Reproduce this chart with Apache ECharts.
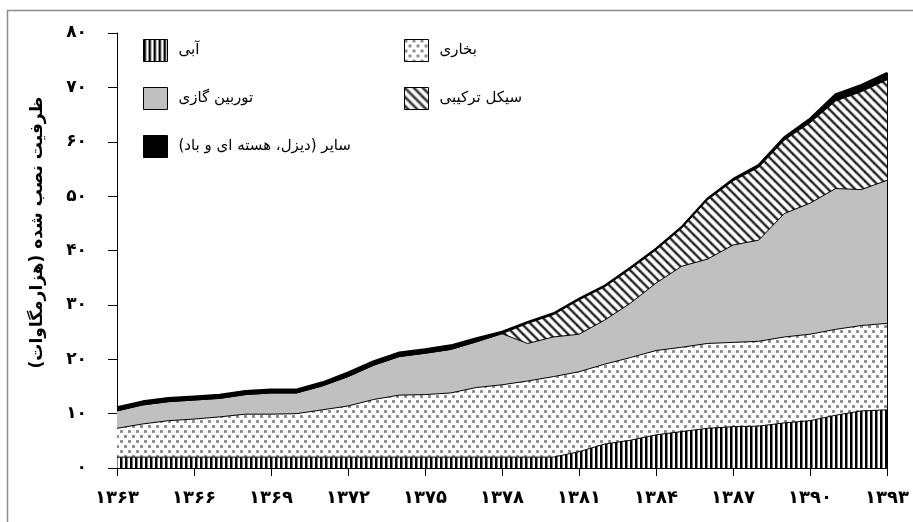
<!DOCTYPE html>
<html>
<head>
<meta charset="utf-8">
<script src="https://cdn.jsdelivr.net/npm/echarts@6/dist/echarts.min.js"></script>
<style>
  html, body { margin: 0; padding: 0; background: #fff; }
  #chart { width: 913px; height: 522px; direction: rtl; }
</style>
</head>
<body>
<div id="chart"></div>
<script>
// Categories: years (Solar Hijri)
var years = ['۱۳۶۳','۱۳۶۴','۱۳۶۵','۱۳۶۶','۱۳۶۷','۱۳۶۸','۱۳۶۹','۱۳۷۰','۱۳۷۱','۱۳۷۲',
             '۱۳۷۳','۱۳۷۴','۱۳۷۵','۱۳۷۶','۱۳۷۷','۱۳۷۸','۱۳۷۹','۱۳۸۰','۱۳۸۱','۱۳۸۲',
             '۱۳۸۳','۱۳۸۴','۱۳۸۵','۱۳۸۶','۱۳۸۷','۱۳۸۸','۱۳۸۹','۱۳۹۰','۱۳۹۱','۱۳۹۲','۱۳۹۳'];
// Y tick labels (thousand MW)
var yTickLabels = ['۰','۱۰','۲۰','۳۰','۴۰','۵۰','۶۰','۷۰','۸۰'];

// Series names
var nameHydro = 'آبی';
var nameSteam = 'بخاری';
var nameGas = 'توربین گازی';
var nameCC = 'سیکل ترکیبی';
var nameOther = 'سایر (دیزل، هسته ای و باد)';
var yAxisTitle = 'ظرفیت نصب شده (هزارمگاوات)';

// Values (thousand MW), 1363..1393
var hydro = [2.0,2.0,2.0,2.0,2.0,2.0,2.0,2.0,2.0,2.0,
             2.0,2.0,2.0,2.0,2.0,2.0,2.0,2.0,3.0,4.4,
             5.1,6.1,6.7,7.3,7.6,7.7,8.3,8.7,9.7,10.5,10.7];
var steam = [5.3,6.1,6.7,7.0,7.4,7.9,7.9,8.0,8.7,9.4,
             10.6,11.4,11.5,11.8,12.8,13.3,14.0,14.8,14.7,14.7,
             15.2,15.5,15.5,15.6,15.5,15.6,15.8,15.9,15.8,15.7,15.9];
var gas =   [3.2,3.5,3.5,3.5,3.4,3.6,3.9,3.8,4.4,5.4,
             6.3,7.1,7.6,8.0,8.4,9.4,6.9,7.3,6.9,8.1,
             10.0,12.4,14.9,15.5,17.9,18.6,22.7,24.1,25.9,25.0,26.3];
var combined = [0,0,0,0,0,0,0,0,0,0,
                0,0,0,0,0,0,3.7,4.1,6.3,6.1,
                6.3,6.1,7.0,10.9,11.8,13.4,13.5,14.8,16.1,18.0,18.5];
var other = [0.7,0.7,0.7,0.7,0.7,0.7,0.7,0.7,0.7,0.8,
             0.8,0.8,0.8,0.8,0.7,0.4,0.3,0.3,0.3,0.3,
             0.3,0.3,0.3,0.3,0.4,0.5,0.6,0.8,1.3,1.3,1.3];

function makeTile(w, h, draw) {
  var c = document.createElement('canvas');
  c.width = w; c.height = h;
  var ctx = c.getContext('2d');
  ctx.fillStyle = '#ffffff';
  ctx.fillRect(0, 0, w, h);
  draw(ctx, w, h);
  return { image: c, repeat: 'repeat' };
}
var patHydro = makeTile(5, 10, function (ctx, w, h) {
  ctx.fillStyle = '#000';
  ctx.fillRect(0, 0, 2.5, h);
});
var patSteam = makeTile(8, 10, function (ctx) {
  ctx.fillStyle = '#a0a0a0';
  ctx.fillRect(0, 0, 3, 3);
  ctx.fillRect(4, 5, 3, 3);
  ctx.fillStyle = '#808080';
  ctx.fillRect(0.5, 0.5, 2, 2);
  ctx.fillRect(4.5, 5.5, 2, 2);
});
var patCC = makeTile(9, 9, function (ctx) {
  [-9, 0, 9].forEach(function (o) {
    ctx.strokeStyle = '#b4b4b4';
    ctx.lineWidth = 3.6;
    ctx.beginPath(); ctx.moveTo(o - 9, -9); ctx.lineTo(o + 18, 18); ctx.stroke();
  });
  [-9, 0, 9].forEach(function (o) {
    ctx.strokeStyle = '#222';
    ctx.lineWidth = 1.8;
    ctx.beginPath(); ctx.moveTo(o - 9, -9); ctx.lineTo(o + 18, 18); ctx.stroke();
  });
});
var colGas = '#c0c0c0';
var colOther = '#000000';

var FONT = 'DejaVu Sans';
var chart = echarts.init(document.getElementById('chart'), null, { renderer: 'canvas' });

function areaSeries(name, data, fill, lw) {
  return {
    name: name,
    type: 'line',
    stack: 'total',
    data: data,
    symbol: 'none',
    smooth: false,
    lineStyle: { color: '#000', width: lw },
    itemStyle: { color: fill },
    areaStyle: { color: fill, opacity: 1 },
    emphasis: { disabled: true },
    silent: true,
    z: 2
  };
}

function legendItem(name, fill, left, top) {
  return {
    data: [{ name: name, itemStyle: { color: fill, borderColor: '#000', borderWidth: 1 } }],
    left: left,
    top: top,
    padding: 0,
    icon: 'rect',
    itemWidth: 24,
    itemHeight: 22,
    selectedMode: false,
    textStyle: { fontFamily: FONT, fontSize: 15, color: '#000', padding: [0, 0, 0, 6] }
  };
}

var lastIdx = years.length - 1;
var lastTotal = hydro[lastIdx] + steam[lastIdx] + gas[lastIdx] + combined[lastIdx] + other[lastIdx];

var series = [
  areaSeries(nameHydro, hydro, patHydro, 1),
  areaSeries(nameSteam, steam, patSteam, 1),
  areaSeries(nameGas, gas, colGas, 1),
  areaSeries(nameCC, combined, patCC, 1),
  areaSeries(nameOther, other, colOther, 1.5)
];
series[4].markLine = {
  silent: true,
  symbol: 'none',
  label: { show: false },
  lineStyle: { color: '#000', width: 1, type: 'solid' },
  data: [[{ coord: [years[lastIdx], 0] }, { coord: [years[lastIdx], lastTotal] }]]
};

chart.setOption({
  animation: false,
  backgroundColor: '#fff',
  graphic: [{
    type: 'rect',
    shape: { x: 7.5, y: 10.5, width: 1200, height: 1200 },
    style: { fill: 'none', stroke: '#8c8c8c', lineWidth: 1.5 },
    silent: true
  }],
  legend: [
    legendItem(nameHydro, patHydro, 143, 39),
    legendItem(nameSteam, patSteam, 404, 39),
    legendItem(nameGas, colGas, 143, 87),
    legendItem(nameCC, patCC, 404, 87),
    legendItem(nameOther, colOther, 143, 135)
  ],
  grid: { left: 117, right: 26, top: 33, bottom: 54, containLabel: false },
  xAxis: {
    type: 'category',
    data: years,
    boundaryGap: false,
    axisLine: { lineStyle: { color: '#000', width: 1 } },
    axisTick: { show: true, interval: 2, length: 8, inside: false, lineStyle: { color: '#000' } },
    axisLabel: { interval: 2, margin: 21, color: '#000', fontFamily: FONT, fontSize: 18, fontWeight: 'bold' },
    splitLine: { show: false }
  },
  yAxis: {
    type: 'value',
    min: 0,
    max: 80,
    interval: 10,
    name: yAxisTitle,
    nameLocation: 'middle',
    nameRotate: 90,
    nameGap: 71,
    nameTextStyle: { fontFamily: FONT, fontSize: 17, fontWeight: 'bold', color: '#000', padding: [0, 0, 0, 36] },
    axisLine: { show: true, lineStyle: { color: '#000', width: 1 } },
    axisTick: { show: true, length: 9, lineStyle: { color: '#000' } },
    axisLabel: {
      margin: 30,
      color: '#000',
      fontFamily: FONT,
      fontSize: 17,
      fontWeight: 'bold',
      formatter: function (v) { return yTickLabels[Math.round(v / 10)]; }
    },
    splitLine: { show: false }
  },
  series: series
});
</script>
</body>
</html>
